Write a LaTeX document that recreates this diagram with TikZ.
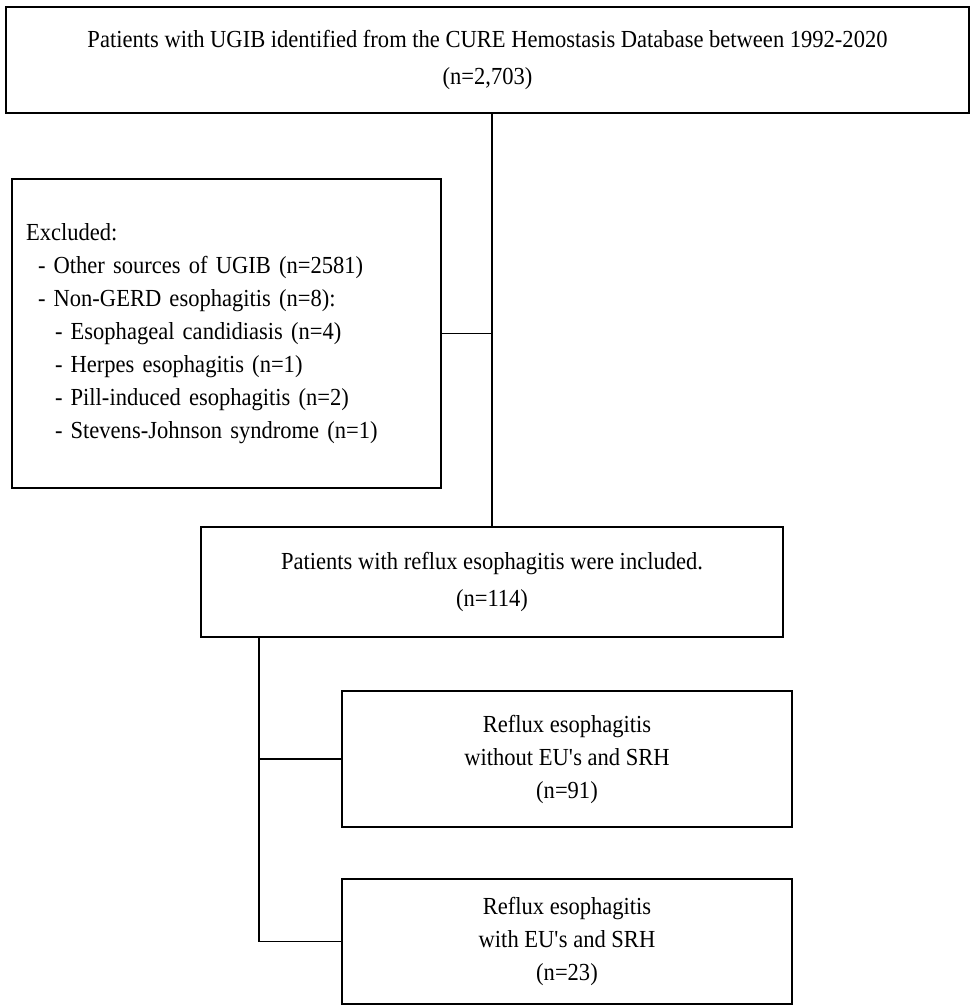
\documentclass[tikz,border=0pt]{standalone}
\usepackage{fontspec}
\setmainfont{Liberation Serif}[FakeStretch=0.92]
\usetikzlibrary{calc,positioning}
\tikzset{box/.style={draw,line width=1.8pt,align=center,inner sep=0pt}}

\begin{document}
\begin{tikzpicture}[x=1pt,y=-1pt,line width=1.8pt,font=\fontsize{24.5}{33}\selectfont]
	\useasboundingbox (0,0) rectangle (970,1006);
	\draw (487.5,60) node (cure) [box,minimum width=963pt,minimum height=106pt] {Patients with UGIB identified from the CURE Hemostasis Database between 1992-2020\\[4pt](n=2,703)};
	\draw (226.5,333.5) node (excl) [box,align=left,text width=401pt,inner xsep=14pt,minimum height=309pt] {Excluded:\\
		\hspace*{12pt}- Other sources of UGIB (n=2581)\\
		\hspace*{12pt}- Non-GERD esophagitis (n=8):\\
		\hspace*{29pt}- Esophageal candidiasis (n=4)\\
		\hspace*{29pt}- Herpes esophagitis (n=1)\\
		\hspace*{29pt}- Pill-induced esophagitis (n=2)\\
		\hspace*{29pt}- Stevens-Johnson syndrome (n=1)};
	\draw (492,582) node (incl) [box,minimum width=582pt,minimum height=110pt] {Patients with reflux esophagitis were included.\\[4pt](n=114)};
	\draw (567,759) node (nosrh) [box,minimum width=450pt,minimum height=136pt] {Reflux esophagitis\\without EU\textquotesingle s and SRH\\(n=91)};
	\draw (567,941.5) node (srh) [box,minimum width=450pt,minimum height=125pt] {Reflux esophagitis\\with EU\textquotesingle s and SRH\\(n=23)};
	\draw (cure.south -| incl.north) -- (incl.north);
	\draw (excl.east) -- (excl.east -| incl.north);
	\coordinate (split) at (259,637);
	\draw (split) |- (nosrh.west);
	\draw (split) |- (srh.west);
\end{tikzpicture}
\end{document}
